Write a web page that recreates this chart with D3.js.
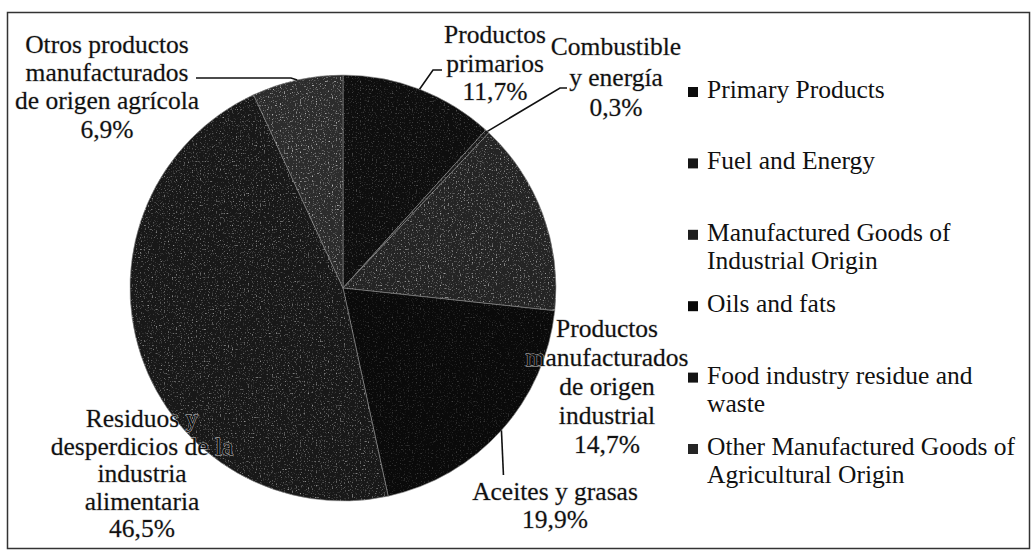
<!DOCTYPE html>
<html>
<head>
<meta charset="utf-8">
<script src="https://cdn.jsdelivr.net/npm/d3@7"></script>
<style>
  body { margin: 0; background: #fff; }
</style>
</head>
<body>
<div id="chart"></div>
<script>
// slice values (%), clockwise from 12 o'clock
var values = [11.7, 0.3, 14.7, 19.9, 46.5, 6.9];
var pctLabels = ["11,7%", "0,3%", "14,7%", "19,9%", "46,5%", "6,9%"];
var sliceNames = [
    ["Productos", "primarios"],
    ["Combustible", "y energía"],
    ["Productos", "manufacturados", "de origen", "industrial"],
    ["Aceites y grasas"],
    ["Residuos y", "desperdicios de la", "industria", "alimentaria"],
    ["Otros productos", "manufacturados", "de origen agrícola"]
];
var legendNames = [
    ["Primary Products"],
    ["Fuel and Energy"],
    ["Manufactured Goods of", "Industrial Origin"],
    ["Oils and fats"],
    ["Food industry residue and", "waste"],
    ["Other Manufactured Goods of", "Agricultural Origin"]
];
var sliceColors = ["#0e0e0e", "#1a1a1a", "#242424", "#0a0a0a", "#181818", "#2c2c2c"];
// how strongly the scanned dither shows on each slice
var speckle = [0.35, 0.45, 0.75, 0.25, 0.6, 0.85];

var serif = "'Liberation Serif', 'Times New Roman', serif";
var width = 1032, height = 559;
var cx = 343, cy = 288, radius = 213;

var svg = d3.select("#chart")
    .append("svg")
        .attr("width", width)
        .attr("height", height);

// noise filter: sparse light dots clipped to the shape
var filter = svg.append("defs").append("filter")
    .attr("id", "speckle")
    .attr("x", 0).attr("y", 0).attr("width", 1).attr("height", 1);
filter.append("feTurbulence")
    .attr("type", "fractalNoise")
    .attr("baseFrequency", 0.75)
    .attr("numOctaves", 1)
    .attr("seed", 4)
    .attr("result", "n");
filter.append("feColorMatrix")
    .attr("in", "n")
    .attr("type", "matrix")
    .attr("values", "0 0 0 0 0.85  0 0 0 0 0.85  0 0 0 0 0.85  4 0 0 0 -2.3")
    .attr("result", "dots");
filter.append("feComposite")
    .attr("in", "dots")
    .attr("in2", "SourceGraphic")
    .attr("operator", "in");

// frame
svg.append("rect")
    .attr("x", 7.5).attr("y", 12.5)
    .attr("width", 1022).attr("height", 536)
    .attr("fill", "none")
    .attr("stroke", "#333")
    .attr("stroke-width", 1.5);

var data = values.map(function (v, i) {
    return { value: v, name: sliceNames[i], pct: pctLabels[i], color: sliceColors[i], sp: speckle[i] };
});

var pie = d3.pie().sort(null).value(function (d) { return d.value; });
var arcs = pie(data);
var arc = d3.arc().innerRadius(0).outerRadius(radius);
var edgeArc = d3.arc().innerRadius(radius).outerRadius(radius);

var g = svg.append("g")
    .attr("transform", "translate(" + cx + "," + cy + ")");

g.selectAll("path.slice")
    .data(arcs)
    .enter()
    .append("path")
        .attr("class", "slice")
        .attr("d", arc)
        .attr("fill", function (d) { return d.data.color; })
        .attr("stroke", "#8a8a8a")
        .attr("stroke-width", 0.6);

g.selectAll("path.dither")
    .data(arcs)
    .enter()
    .append("path")
        .attr("class", "dither")
        .attr("d", arc)
        .attr("fill", "#000")
        .attr("filter", "url(#speckle)")
        .attr("opacity", function (d) { return d.data.sp; });

// label placement: centre x, first baseline, line step; leader elbows (absolute)
var labelPos = [
    { x: 495, y: 43, step: 28.5, leader: [[433, 70], [442, 70]] },
    { x: 616, y: 55, step: 30.5, leader: [[560, 88], [567, 88]] },
    { x: 607, y: 337, step: 29, leader: null },
    { x: 555, y: 500, step: 28, leader: "down" },
    { x: 142, y: 427, step: 27.5, leader: null },
    { x: 107, y: 53, step: 28.2, leader: [[291, 78], [196, 78]] }
];

arcs.forEach(function (d, i) {
    var p = labelPos[i];
    var c = edgeArc.centroid(d);
    var start = [cx + c[0], cy + c[1]];
    var pts = null;
    if (p.leader === "down") {
        pts = [start, [start[0] + 2, p.y - 25]];
    } else if (p.leader) {
        pts = [start].concat(p.leader);
    }
    if (pts) {
        svg.append("path")
            .attr("d", d3.line()(pts))
            .attr("fill", "none")
            .attr("stroke", "#111")
            .attr("stroke-width", 1.6);
    }
    var lines = d.data.name.concat([d.data.pct]);
    var t = svg.append("text")
        .attr("text-anchor", "middle")
        .attr("font-family", serif)
        .attr("font-size", 25.5)
        .attr("fill", "#111")
        .style("paint-order", "stroke")
        .style("stroke", "#c8c8c8")
        .style("stroke-width", "0.8px");
    lines.forEach(function (s, k) {
        t.append("tspan")
            .attr("x", p.x)
            .attr("y", p.y + k * p.step)
            .text(s);
    });
});

// legend
var legendX = 688, legendY = 98, legendStep = 71.4, lineStep = 28;
var legend = svg.append("g").attr("class", "legend");
legendNames.forEach(function (names, i) {
    var y = legendY + i * legendStep;
    legend.append("rect")
        .attr("x", legendX)
        .attr("y", y - 11)
        .attr("width", 10)
        .attr("height", 10)
        .attr("fill", d3.color(sliceColors[i]).darker(0.5));
    var t = legend.append("text")
        .attr("font-family", serif)
        .attr("font-size", 25.5)
        .attr("fill", "#111");
    names.forEach(function (s, k) {
        t.append("tspan")
            .attr("x", legendX + 19)
            .attr("y", y + k * lineStep)
            .text(s);
    });
});
</script>
</body>
</html>
